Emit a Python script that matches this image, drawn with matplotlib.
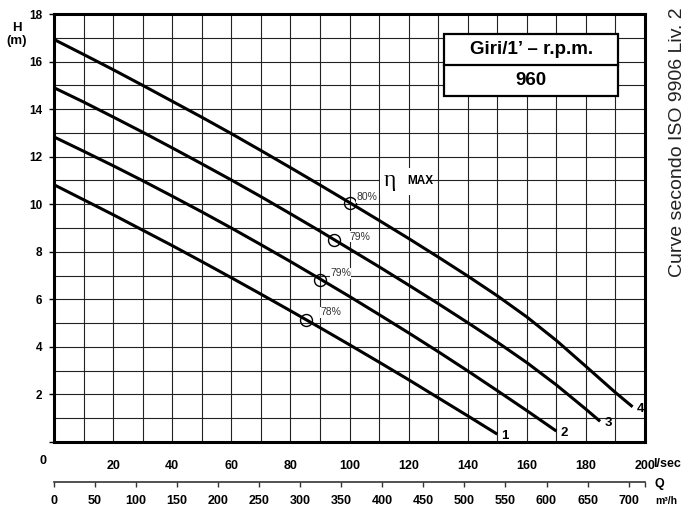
import numpy as np
import matplotlib
matplotlib.use("Agg")
import matplotlib.pyplot as plt
from matplotlib.patches import Rectangle

plt.rcParams['font.family'] = ['Liberation Sans', 'DejaVu Sans']

# H-Q curves (Q in l/sec, H in m)
q1 = [0, 10, 20, 30, 40, 50, 60, 70, 80, 90, 100, 110, 120, 130, 140, 150]
h1 = [10.82, 10.19, 9.56, 8.91, 8.26, 7.59, 6.91, 6.22, 5.52, 4.81, 4.09, 3.36, 2.62, 1.86, 1.10, 0.33]

q2 = [0, 10, 20, 30, 40, 50, 60, 70, 80, 90, 100, 110, 120, 130, 140, 150, 160, 170]
h2 = [12.83, 12.23, 11.62, 10.99, 10.34, 9.68, 9.00, 8.30, 7.59, 6.86, 6.12, 5.36, 4.59, 3.80, 2.99, 2.16, 1.32, 0.46]

q3 = [0, 10, 20, 30, 40, 50, 60, 70, 80, 90, 100, 110, 120, 130, 140, 150, 160, 170, 180, 184.8]
h3 = [14.9, 14.3, 13.67, 13.03, 12.37, 11.7, 11.02, 10.32, 9.6, 8.87, 8.12, 7.37, 6.6, 5.82, 5.02, 4.2, 3.34, 2.40, 1.38, 0.87]

q4 = [0, 10, 20, 30, 40, 50, 60, 70, 80, 90, 100, 110, 120, 130, 140, 150, 160, 170, 180, 190, 195.8]
h4 = [16.93, 16.30, 15.66, 15.0, 14.33, 13.66, 12.97, 12.26, 11.54, 10.81, 10.07, 9.32, 8.56, 7.78, 6.98, 6.15, 5.26, 4.27, 3.18, 2.08, 1.48]

curves = [(q1, h1, '1'), (q2, h2, '2'), (q3, h3, '3'), (q4, h4, '4')]

# best efficiency points
eff_q = [85.4, 90.1, 94.9, 100.0]
eff_h = [5.14, 6.82, 8.5, 10.05]
eff_lab = ['78%', '79%', '79%', '80%']
eff_lab_q = [90.0, 93.4, 100.0, 102.5]
eff_lab_h = [5.45, 7.1, 8.63, 10.3]

xticks = [20, 40, 60, 80, 100, 120, 140, 160, 180, 200]
yticks = [0, 2, 4, 6, 8, 10, 12, 14, 16, 18]
m3h_ticks = [0, 50, 100, 150, 200, 250, 300, 350, 400, 450, 500, 550, 600, 650, 700]

W, H = 687, 508
fig = plt.figure(figsize=(W / 100, H / 100), dpi=100)
L, R, B, T = 54 / W, 645 / W, (H - 442) / H, (H - 14) / H
ax = fig.add_axes([L, B, R - L, T - B])
ax.set_xlim(0, 200)
ax.set_ylim(0, 18)

# grid
for x in range(10, 200, 10):
    ax.axvline(x, color='#222222', lw=0.8, zorder=1)
for y in range(1, 18):
    ax.axhline(y, color='#222222', lw=0.8, zorder=1)

for s in ax.spines.values():
    s.set_linewidth(2.2)
    s.set_zorder(5)

ax.set_xticks(xticks)
ax.set_xticklabels([str(v) for v in xticks], fontsize=9, fontweight='bold')
ax.tick_params(axis='x', length=0, pad=13)
ax.set_yticks(yticks)
ax.set_yticklabels([''] + [str(v) for v in yticks[1:]], fontsize=8.5, fontweight='bold')
ax.tick_params(axis='y', direction='out', length=3.6, width=1, pad=5)

for q, h, lab in curves:
    ax.plot(q, h, color='black', lw=2.2, zorder=4, solid_capstyle='butt')
    ax.annotate(lab, (q[-1], h[-1]), xytext=(3, -1.5), textcoords='offset points',
                ha='left', va='center', fontsize=9.5, fontweight='bold')

ax.plot(eff_q, eff_h, 'o', ms=8.6, mfc='none', mec='black', mew=1, zorder=6)
for xq, yh, t in zip(eff_lab_q, eff_lab_h, eff_lab):
    ax.text(xq, yh, t, fontsize=7.5, color='#333333', ha='left', va='center', zorder=6,
            bbox=dict(facecolor='white', edgecolor='none', pad=0.3))

# eta max label
ax.add_patch(Rectangle((110.4, 10.4), 17.2, 1.14, facecolor='white', edgecolor='none', zorder=2))
ax.text(111.7, 10.77, '\u03b7', fontsize=17, family=['Liberation Serif', 'DejaVu Serif'],
        ha='left', va='baseline', zorder=6)
ax.text(119.5, 10.98, 'MAX', fontsize=8.5, fontweight='bold', ha='left', va='center', zorder=6)

# speed box
ax.add_patch(Rectangle((132, 14.57), 59, 2.57, facecolor='white', edgecolor='black', lw=1.6, zorder=6))
ax.plot([132, 191], [15.84, 15.84], color='black', lw=1.6, zorder=7)
ax.text(161.5, 16.5, 'Giri/1\u2019 \u2013 r.p.m.', fontsize=13.5, fontweight='bold',
        ha='center', va='center', zorder=8)
ax.text(161.5, 15.2, '960', fontsize=13.5, fontweight='bold', ha='center', va='center', zorder=8)

# axis texts
fig.text(43 / W, 1 - 461 / H, '0', fontsize=9, fontweight='bold', ha='center', va='center')
fig.text(17 / W, 1 - 28 / H, 'H', fontsize=9.5, fontweight='bold', ha='center', va='center')
fig.text(17 / W, 1 - 41 / H, '(m)', fontsize=9.5, fontweight='bold', ha='center', va='center')
fig.text(653 / W, 1 - 464 / H, 'l/sec', fontsize=9, fontweight='bold', ha='left', va='center')
fig.text(659 / W, 1 - 484 / H, 'Q', fontsize=9, fontweight='bold', ha='center', va='center')
fig.text(655 / W, 1 - 501 / H, 'm\u00b3/h', fontsize=7.5, fontweight='bold', ha='left', va='center')
fig.text(678 / W, 1 - 142 / H, 'Curve secondo ISO 9906 Liv. 2', fontsize=14, color='#222222',
         rotation=90, ha='center', va='center')

# second scale in m3/h
ax2 = fig.add_axes([L, (H - 482) / H, R - L, 0.0001])
ax2.set_xlim(0, 720)
ax2.set_yticks([])
for k in ['top', 'left', 'right']:
    ax2.spines[k].set_visible(False)
ax2.spines['bottom'].set_linewidth(1.2)
ax2.spines['bottom'].set_color('#333333')
ax2.set_xticks(m3h_ticks)
ax2.set_xticklabels([str(v) for v in m3h_ticks], fontsize=9, fontweight='bold',
                    family=['Liberation Sans Narrow', 'Liberation Sans', 'DejaVu Sans'])
ax2.set_xticks([720], minor=True)
ax2.tick_params(axis='x', which='both', direction='out', length=3.6, width=1,
                color='#333333', pad=6)
ax2.patch.set_visible(False)

fig.savefig('out.png', dpi=100)
